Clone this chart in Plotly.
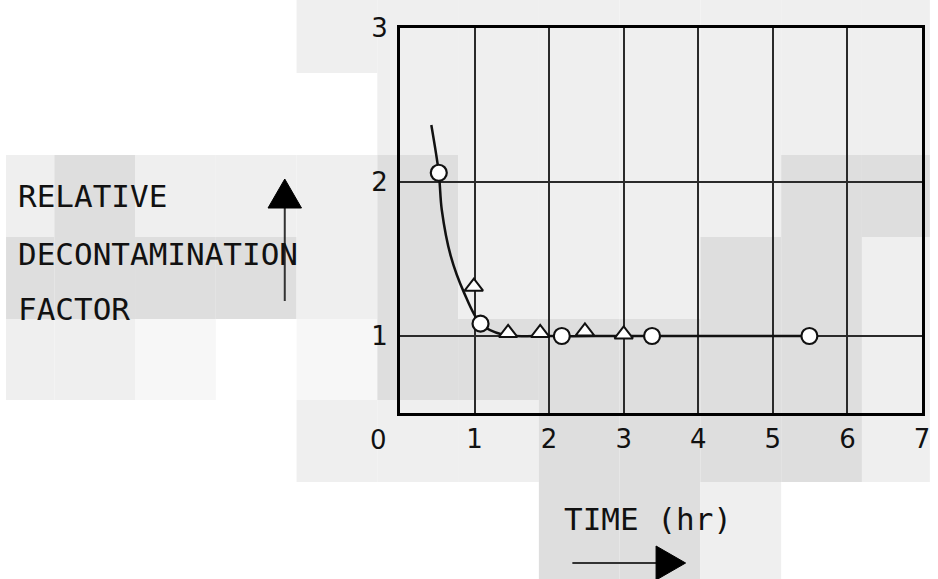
import plotly.graph_objects as go

# ---------------- data ----------------
x_tick_vals = [1, 2, 3, 4, 5, 6, 7]
x_tick_text = ["1", "2", "3", "4", "5", "6", "7"]
y_tick_vals = [1, 2, 3]
y_tick_text = ["1", "2", "3"]

curve_x = [0.42, 0.52, 0.56, 0.68, 0.86, 1.08, 1.37, 2.0, 3.0, 5.5]
curve_y = [2.37, 2.06, 1.82, 1.52, 1.28, 1.08, 1.01, 1.0, 1.0, 1.0]

circle_x = [0.52, 1.08, 2.17, 3.38, 5.49]
circle_y = [2.06, 1.08, 1.0, 1.0, 1.0]

triangle_x = [0.99, 1.45, 1.88, 2.48, 3.0]
triangle_y = [1.32, 1.02, 1.02, 1.03, 1.01]

y_label_lines = ["RELATIVE", "DECONTAMINATION", "FACTOR"]
x_label = "TIME (hr)"

# ---------------- layout helpers ----------------
W, H = 938, 579
PL, PR, PT, PB = 400, 930, 28, 413  # plot area in pixels


def px(x):
    return (x - PL) / (PR - PL)


def py(y):
    return (PB - y) / (PB - PT)


# scanned-background blocks (decoration)
col_edges = [0, 49, 131, 213, 295, 377, 459, 541, 623, 705, 787, 869, 938]
row_edges = [0, 73, 155, 237, 319, 400, 482, 579]
block_rows = [
    "WWWWLLLLLLLL",
    "WWWWWLLLLLLL",
    "LMLLLMLLLLMM",
    "MMMMLMLLLMML",
    "LLVWVMMMMMML",
    "WWWWLLLMMMML",
    "WWWWWWWMMLWW",
]
shade = {"W": None, "L": "#efefef", "M": "#dedede", "V": "#f7f7f7"}

shapes = []
for r, row in enumerate(block_rows):
    for c, code in enumerate(row):
        col = shade[code]
        if col is None:
            continue
        shapes.append(dict(
            type="rect", xref="paper", yref="paper", layer="below",
            x0=px(col_edges[c]), x1=px(col_edges[c + 1]),
            y0=py(row_edges[r + 1]), y1=py(row_edges[r]),
            line=dict(width=0), fillcolor=col))

# up arrow next to the y label
shapes.append(dict(type="line", xref="paper", yref="paper",
                   x0=px(283), x1=px(283), y0=py(301), y1=py(205),
                   line=dict(color="#333333", width=2)))
shapes.append(dict(type="path", xref="paper", yref="paper",
                   path=f"M {px(283)} {py(179)} L {px(300)} {py(208)} L {px(266)} {py(208)} Z",
                   fillcolor="black", line=dict(color="black", width=1)))
# right arrow under the x label
shapes.append(dict(type="line", xref="paper", yref="paper",
                   x0=px(575), x1=px(665), y0=py(563), y1=py(563),
                   line=dict(color="#333333", width=2)))
shapes.append(dict(type="path", xref="paper", yref="paper",
                   path=f"M {px(690)} {py(563)} L {px(660)} {py(546)} L {px(660)} {py(580)} Z",
                   fillcolor="black", line=dict(color="black", width=1)))

label_font = dict(family="DejaVu Sans Mono", size=31, color="#111111")
annotations = []
for text, yc in zip(y_label_lines, [196, 254, 309]):
    annotations.append(dict(text=text, xref="paper", yref="paper",
                            x=px(10), y=py(yc), xanchor="left", yanchor="middle",
                            showarrow=False, font=label_font))
annotations.append(dict(text=x_label, xref="paper", yref="paper",
                        x=px(564), y=py(519), xanchor="left", yanchor="middle",
                        showarrow=False, font=label_font))
annotations.append(dict(text="0", xref="paper", yref="paper",
                        x=px(378), y=py(440), xanchor="center", yanchor="middle",
                        showarrow=False,
                        font=dict(family="DejaVu Sans", size=26, color="#111111")))

fig = go.Figure()
fig.add_trace(go.Scatter(x=curve_x, y=curve_y, mode="lines",
                         line=dict(color="#111111", width=2.5, shape="spline", smoothing=0.9),
                         hoverinfo="skip", showlegend=False))
fig.add_trace(go.Scatter(x=triangle_x, y=triangle_y, mode="markers",
                         marker=dict(symbol="triangle-up", size=16, color="white",
                                     line=dict(color="#111111", width=2)),
                         showlegend=False))
fig.add_trace(go.Scatter(x=circle_x, y=circle_y, mode="markers",
                         marker=dict(symbol="circle", size=16, color="white",
                                     line=dict(color="#111111", width=2.2)),
                         showlegend=False))

axis_common = dict(showgrid=True, gridcolor="#2a2a2a", gridwidth=1.5,
                   showline=True, linecolor="black", linewidth=3, mirror=True,
                   zeroline=False, ticks="",
                   tickfont=dict(family="DejaVu Sans", size=26, color="#111111"))

fig.update_layout(
    width=W, height=H,
    margin=dict(l=PL, r=W - PR, t=PT, b=H - PB),
    paper_bgcolor="white", plot_bgcolor="rgba(0,0,0,0)",
    xaxis=dict(range=[0, 7], tickvals=x_tick_vals, ticktext=x_tick_text,
               ticklabelstandoff=1, **axis_common),
    yaxis=dict(range=[0.5, 3], tickvals=y_tick_vals, ticktext=y_tick_text,
               ticklabelstandoff=4, **axis_common),
    shapes=shapes, annotations=annotations,
)

fig.write_html("out.html",
               config={"displayModeBar": False},
               post_script="document.body.style.margin='0px';"
                           "document.body.style.overflow='hidden';")
